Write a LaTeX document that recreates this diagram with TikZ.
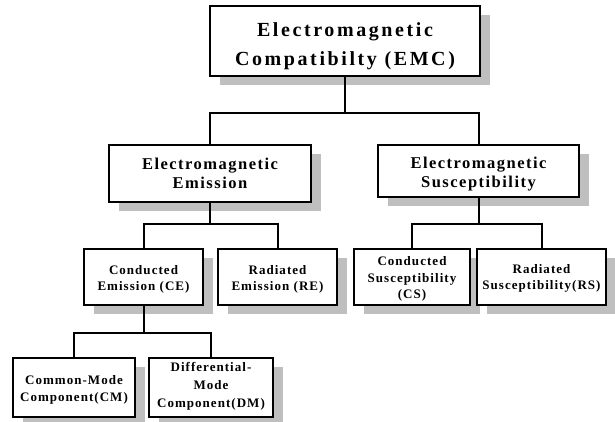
\documentclass[tikz,border=0pt]{standalone}
\usepackage{fontspec}
\setmainfont{Liberation Serif}
\usetikzlibrary{shadows}
\tikzset{
  box/.style={draw=black, line width=2pt, fill=white, inner sep=0pt,
    drop shadow={shadow xshift=10pt, shadow yshift=-9pt, fill=black!25, opacity=1}},
  txt/.style={align=center, inner sep=0pt},
  tone/.style={txt, font=\fontsize{20}{29}\selectfont\bfseries\addfontfeature{LetterSpace=13}},
  ttwo/.style={txt, font=\fontsize{16.5}{18.5}\selectfont\bfseries\addfontfeature{LetterSpace=9}},
  tthree/.style={txt, font=\fontsize{13}{16.7}\selectfont\bfseries\addfontfeature{LetterSpace=8}},
  conn/.style={draw=black, line width=2pt},
}
\begin{document}
\begin{tikzpicture}[x=1pt,y=-1pt]
\useasboundingbox (0,0) rectangle (615,421);
% boxes
\node[box, minimum width=270pt, minimum height=70pt] (emc) at (345,41) {};
\node[box, minimum width=202pt, minimum height=57pt] (eme) at (210,173.5) {};
\node[box, minimum width=201pt, minimum height=52pt] (ems) at (478.5,171) {};
\node[box, minimum width=119pt, minimum height=56pt] (ce) at (143.5,277) {};
\node[box, minimum width=119pt, minimum height=56pt] (re) at (277.5,277) {};
\node[box, minimum width=116pt, minimum height=56pt] (cs) at (412,277) {};
\node[box, minimum width=129pt, minimum height=56pt] (rs) at (541.5,277) {};
\node[box, minimum width=122pt, minimum height=59pt] (cm) at (74,387.5) {};
\node[box, minimum width=124pt, minimum height=59pt] (dm) at (211,387.5) {};
% texts
\node[tone] (emct) at ([yshift=-5pt]emc.center) {Electromagnetic\\Compatibilty (EMC)};
\node[ttwo] (emet) at (eme.center) {Electromagnetic\\Emission};
\node[ttwo] (emst) at ([yshift=-3pt]ems.center) {Electromagnetic\\Susceptibility};
\node[tthree] (cet) at ([yshift=-2.5pt]ce.center) {Conducted\\Emission (CE)};
\node[tthree] (ret) at ([yshift=-2.5pt]re.center) {Radiated\\Emission (RE)};
\node[tthree] (cst) at ([yshift=-2pt]cs.center) {Conducted\\Susceptibility\\(CS)};
\node[tthree] (rst) at ([yshift=-1.5pt]rs.center) {Radiated\\Susceptibility(RS)};
\node[tthree] (cmt) at ([yshift=-2.5pt]cm.center) {Common-Mode\\Component(CM)};
\node[tthree, font=\fontsize{13}{18}\selectfont\bfseries\addfontfeature{LetterSpace=8}] (dmt) at ([yshift=1.5pt]dm.center) {Differential-\\Mode\\Component(DM)};
% connectors
\draw[conn] (emc.south) -- ++(0,36) -| (eme.north);
\draw[conn] (emc.south) -- ++(0,36) -| (ems.north);
\draw[conn] (eme.south) -- ++(0,21) -| (ce.north);
\draw[conn] (eme.south) -- ++(0,21) -| (re.north);
\draw[conn] (ems.south) -- ++(0,26) -| (cs.north);
\draw[conn] (ems.south) -- ++(0,26) -| (rs.north);
\draw[conn] (ce.south) -- ++(0,27) -| (cm.north);
\draw[conn] (ce.south) -- ++(0,27) -| (dm.north);
\end{tikzpicture}
\end{document}
